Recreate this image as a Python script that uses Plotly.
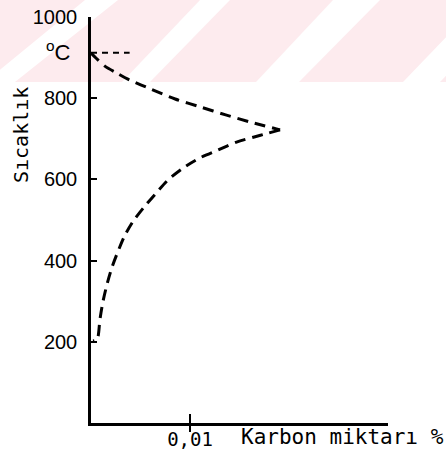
import plotly.graph_objects as go

# ---- data (carbon %, temperature °C) ----
upper_carbon = [0.0, 0.0005, 0.0014, 0.0026, 0.0039, 0.0060, 0.0085, 0.0111, 0.0136, 0.0161, 0.0191]
upper_temp   = [911, 899, 879, 862, 845, 823, 798, 778, 759, 741, 722]

lower_carbon = [0.0191, 0.0179, 0.0164, 0.0147, 0.0128, 0.0110, 0.0093, 0.0078, 0.0065, 0.0053,
                0.0042, 0.0034, 0.0027, 0.0021, 0.0016, 0.0012, 0.0009, 0.0007, 0.0005, 0.0002]
lower_temp   = [722, 714, 704, 692, 672, 653, 628, 599, 564, 530,
                495, 461, 421, 382, 340, 298, 254, 212, 204, 202]

a3_carbon = [0.0, 0.0039]
a3_temp = [912, 912]

y_ticks = [200, 400, 600, 800, 1000]
y_labels = ["200", "400", "600", "800", "1000"]
x_ticks = [0.01]
x_labels = ["0,01"]

# ---- figure geometry (pixels) ----
W, H = 446, 460
L, R, T, B = 91, 58, 17, 37
PW, PH = W - L - R, H - T - B


def px(x):
    return (x - L) / PW


def py(y):
    return (H - B - y) / PH


fig = go.Figure()

dash_style = dict(color="black", width=3, dash="11px,7px")
fig.add_trace(go.Scatter(x=upper_carbon, y=upper_temp, mode="lines",
                         line=dict(shape="spline", smoothing=0.8, **dash_style), showlegend=False))
fig.add_trace(go.Scatter(x=lower_carbon, y=lower_temp, mode="lines",
                         line=dict(shape="spline", smoothing=0.8, **dash_style), showlegend=False))
fig.add_trace(go.Scatter(x=a3_carbon, y=a3_temp, mode="lines",
                         line=dict(color="black", width=2, dash="6px,5px"), showlegend=False))
# x tick mark crossing the axis line
fig.add_trace(go.Scatter(x=x_ticks, y=[0] * len(x_ticks), mode="markers", cliponaxis=False,
                         marker=dict(symbol="line-ns-open", size=13, color="black",
                                     line=dict(color="black", width=2)),
                         showlegend=False, hoverinfo="skip"))

# faint pink watermark band with white diagonal stripes (scan background)
shapes = [dict(type="rect", xref="paper", yref="paper", layer="below",
               x0=px(0), x1=px(W), y0=py(82), y1=py(0),
               fillcolor="#fdebee", line=dict(width=0))]
stripes = [(-15, 15, 85, 118), (122, 150, 200, 230), (256, 299, 333, 380), (403, 440, 482, 520)]
for b0, b1, t0, t1 in stripes:
    path = "M {},{} L {},{} L {},{} L {},{} Z".format(
        px(b0), py(82), px(b1), py(82), px(t1), py(0), px(t0), py(0))
    shapes.append(dict(type="path", xref="paper", yref="paper", layer="below",
                       path=path, fillcolor="white", line=dict(width=0)))

annotations = [
    dict(text="<sup>o</sup>C", x=px(58), y=py(51), xref="paper", yref="paper",
         xanchor="center", yanchor="middle",
         showarrow=False, font=dict(family="Liberation Sans", size=22, color="black")),
    dict(text="Sıcaklık", x=px(21), y=py(135), xref="paper", yref="paper",
         xanchor="center", yanchor="middle",
         textangle=-90, showarrow=False,
         font=dict(family="DejaVu Sans Mono", size=20, color="black")),
    dict(text="Karbon miktarı %", x=px(446), y=py(437), xref="paper", yref="paper",
         xanchor="right", yanchor="middle", showarrow=False,
         font=dict(family="DejaVu Sans Mono", size=21, color="black")),
]

fig.update_layout(
    template="none",
    width=W, height=H,
    margin=dict(l=L, r=R, t=T, b=B, pad=0),
    paper_bgcolor="white", plot_bgcolor="rgba(0,0,0,0)",
    shapes=shapes, annotations=annotations,
    xaxis=dict(range=[0, 0.03], showgrid=False, zeroline=False, automargin=False,
               showline=True, linecolor="black", linewidth=2.5,
               tickmode="array", tickvals=x_ticks, ticktext=x_labels,
               ticks="", ticklabelstandoff=-3,
               tickfont=dict(family="DejaVu Sans Mono", size=19, color="black")),
    yaxis=dict(range=[0, 1000], showgrid=False, zeroline=False, automargin=False,
               showline=True, linecolor="black", linewidth=2.5,
               tickmode="array", tickvals=y_ticks, ticktext=y_labels,
               ticks="inside", ticklen=6, tickwidth=2, tickcolor="black",
               ticklabelstandoff=7,
               tickfont=dict(family="Liberation Sans", size=20, color="black")),
)

fig.write_html("out.html", config={"displayModeBar": False},
               post_script="document.body.style.margin='0';")
